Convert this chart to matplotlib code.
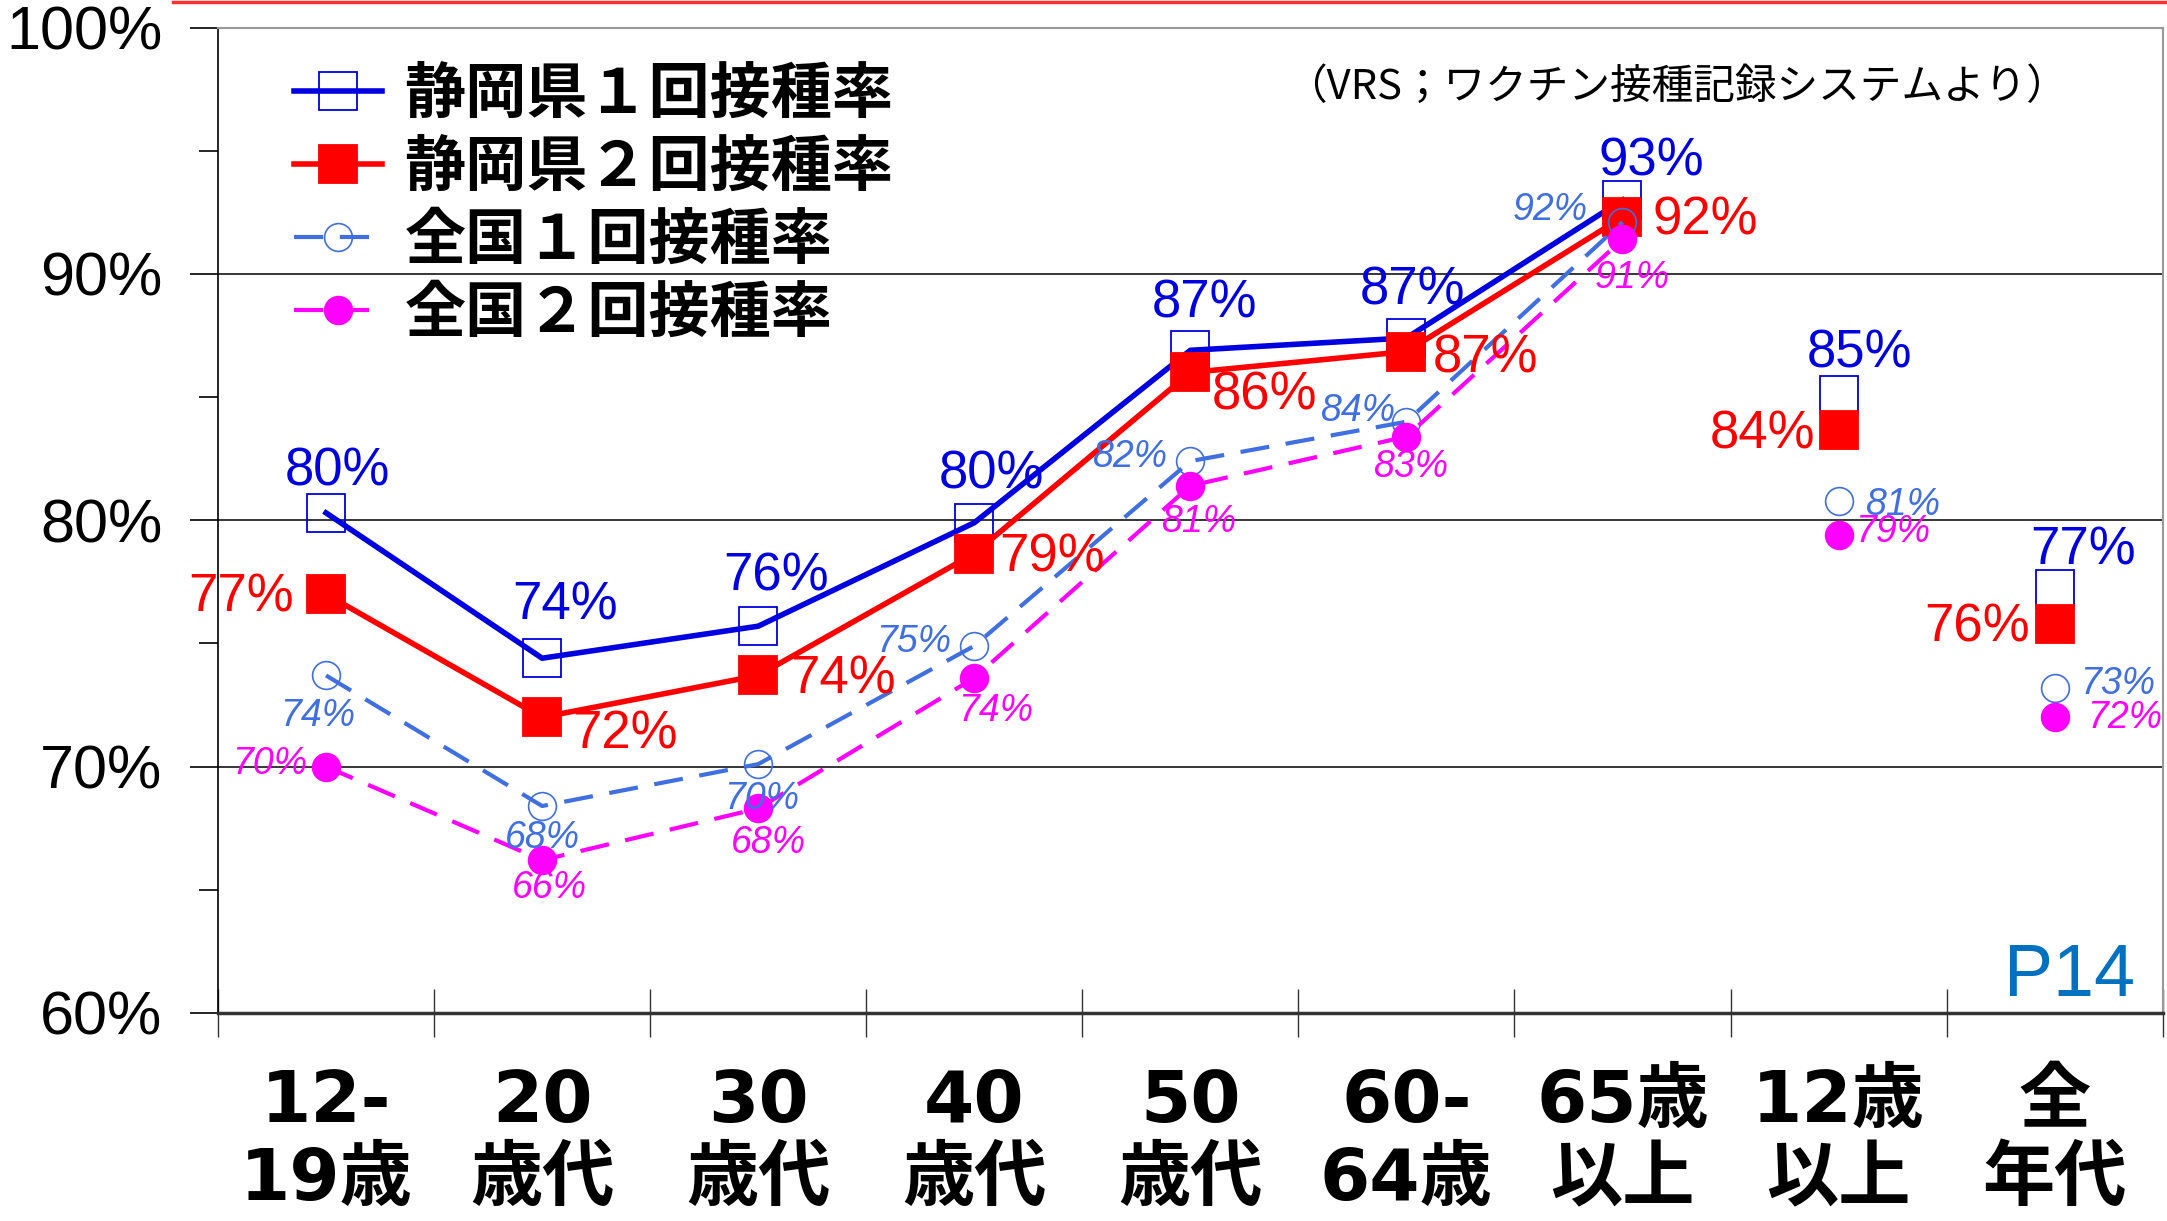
import matplotlib
matplotlib.use("Agg")
from matplotlib import pyplot as plt
from matplotlib.lines import Line2D
import numpy as np

# chart data
categories = ["12-\n19歳", "20\n歳代", "30\n歳代", "40\n歳代", "50\n歳代",
              "60-\n64歳", "65歳\n以上", "12歳\n以上", "全\n年代"]
series_names = ["静岡県１回接種率", "静岡県２回接種率", "全国１回接種率", "全国２回接種率"]
shizuoka_1 = [80.3, 74.4, 75.7, 79.9, 86.9, 87.4, 93.0, 85.1, 77.2]
shizuoka_2 = [77.0, 72.0, 73.7, 78.65, 86.0, 86.85, 92.3, 83.65, 75.8]
zenkoku_1 = [73.7, 68.4, 70.1, 74.9, 82.4, 84.0, 92.1, 80.8, 73.2]
zenkoku_2 = [70.0, 66.2, 68.3, 73.6, 81.4, 83.4, 91.4, 79.4, 72.0]
yticks = [60, 70, 80, 90, 100]
yminor = [65, 75, 85, 95]
source_note = "（VRS；ワクチン接種記録システムより）"
page_label = "P14"
n_joined = 7  # age groups joined by lines, the last two are summaries

# label placement (pixel offsets from the point, alignment)
off_s1 = [(11, 41, "center"), (23, 53, "center"), (18, 50, "center"), (17, 48, "center"),
          (14, 47, "center"), (6, 47, "center"), (29, 39, "center"), (21, 41, "center"),
          (28, 39, "center")]
off_s2 = [(-32, -3, "right"), (30, -17, "left"), (32, -4, "left"), (25, -4, "left"),
          (21, -23, "left"), (26, -7, "left"), (30, -3, "left"), (-23, -4, "right"),
          (-25, -4, "right")]
off_z1 = [(-8, -41, "center"), (0, -32, "center"), (3, -35, "center"), (-23, 4, "right"),
          (-23, 4, "right"), (-11, 11, "right"), (-35, 12, "right"), (26, -4, "left"),
          (25, 4, "left")]
off_z2 = [(-19, 3, "right"), (7, -28, "center"), (10, -35, "center"), (21, -33, "center"),
          (8, -36, "center"), (4, -30, "center"), (10, -39, "center"), (17, 3, "left"),
          (32, -1, "left")]

NARROW = ["Liberation Sans", "DejaVu Sans"]
JP = ["Noto Sans CJK JP", "DejaVu Sans"]
XLAB = ["DejaVu Sans", "Noto Sans CJK JP"]

c_s1 = "#0000E0"
c_s2 = "#FF0000"
c_z1 = "#3F6FE0"
c_z2 = "#FF00FF"

fig = plt.figure(figsize=(21.67, 12.21), dpi=100)
ax = fig.add_axes([0.1006, 0.1704, 0.8974, 0.807])
x = np.arange(len(categories))


def plot_series(vals, color, ls, lw, marker, ms, mfc, mew, z, dashes=None):
    line, = ax.plot(x[:n_joined], vals[:n_joined], color=color, ls=ls, lw=lw,
                    marker=marker, ms=ms, mfc=mfc, mec=color, mew=mew, zorder=z)
    if dashes:
        line.set_dashes(dashes)
    ax.plot(x[n_joined:], vals[n_joined:], ls="none", marker=marker, ms=ms,
            mfc=mfc, mec=color, mew=mew, zorder=z)
    return line


h1 = plot_series(shizuoka_1, c_s1, "-", 4, "s", 28, "none", 1.3, 3)
h2 = plot_series(shizuoka_2, c_s2, "-", 4, "s", 28, c_s2, 1.3, 4)
h3 = plot_series(zenkoku_1, c_z1, "--", 3, "o", 20, "none", 1.2, 5, dashes=(7, 4))
h4 = plot_series(zenkoku_2, c_z2, "--", 3, "o", 20, c_z2, 1.2, 6, dashes=(7, 4))


def label_points(vals, offsets, color, size, style):
    for xi, v, (dx, dy, ha) in zip(x, vals, offsets):
        ax.annotate(f"{v:.0f}%", (xi, v), xytext=(dx, dy), textcoords="offset pixels",
                    ha=ha, va="center", color=color, fontsize=size, fontstyle=style,
                    family=NARROW, zorder=8)


label_points(shizuoka_1, off_s1, c_s1, 38, "normal")
label_points(shizuoka_2, off_s2, c_s2, 38, "normal")
label_points(zenkoku_1, off_z1, c_z1, 27, "italic")
label_points(zenkoku_2, off_z2, c_z2, 27, "italic")

# axes
ax.set_xlim(-0.5, len(categories) - 0.5)
ax.set_ylim(yticks[0], yticks[-1])
ax.set_yticks(yticks, [f"{t}%" for t in yticks])
ax.set_yticks(yminor, minor=True)
ax.tick_params(axis="y", which="major", length=20, width=1.2, direction="out", pad=20,
               labelsize=44, color="black")
ax.tick_params(axis="y", which="minor", length=14, width=1.2, direction="out")
for lab in ax.get_yticklabels():
    lab.set_family(NARROW)

ax.set_xticks(np.arange(-0.5, len(categories), 1))
ax.set_xticklabels([])
ax.set_xticks(x, categories, minor=True)
ax.tick_params(axis="x", which="major", length=35, width=1, direction="inout", color="#333333")
ax.tick_params(axis="x", which="minor", length=0, pad=40, labelsize=52)
for lab in ax.get_xticklabels(minor=True):
    lab.set_family(XLAB)
    lab.set_fontweight("bold")
    lab.set_linespacing(1.16)

for t in yticks[1:-1]:
    ax.axhline(t, color="black", lw=1.1, zorder=1)

ax.spines["left"].set_color("black")
ax.spines["left"].set_linewidth(1.2)
ax.spines["top"].set_color("#999999")
ax.spines["top"].set_linewidth(1.5)
ax.spines["right"].set_color("#999999")
ax.spines["right"].set_linewidth(1.5)
ax.spines["bottom"].set_color("#333333")
ax.spines["bottom"].set_linewidth(2.5)

leg = ax.legend([h1, h2, h3, h4], series_names, loc="upper left",
                bbox_to_anchor=(0.039, 0.963), frameon=False, borderpad=0,
                borderaxespad=0, handlelength=1.45, handletextpad=0.36,
                labelspacing=0.19, prop={"family": JP, "size": 44, "weight": "bold"})

ax.text(0.75, 0.9395, source_note, transform=ax.transAxes, ha="center", va="center",
        fontsize=30, family=JP)
ax.text(0.9856, 0.0365, page_label, transform=ax.transAxes, ha="right", va="center",
        fontsize=53, color="#0070C0", family=NARROW)

# red rule along the top of the slide
fig.add_artist(Line2D([0.08, 1.0], [0.9985, 0.9985], transform=fig.transFigure,
                      color="#FF3030", lw=2.5))

fig.savefig("out.png", dpi=100)
